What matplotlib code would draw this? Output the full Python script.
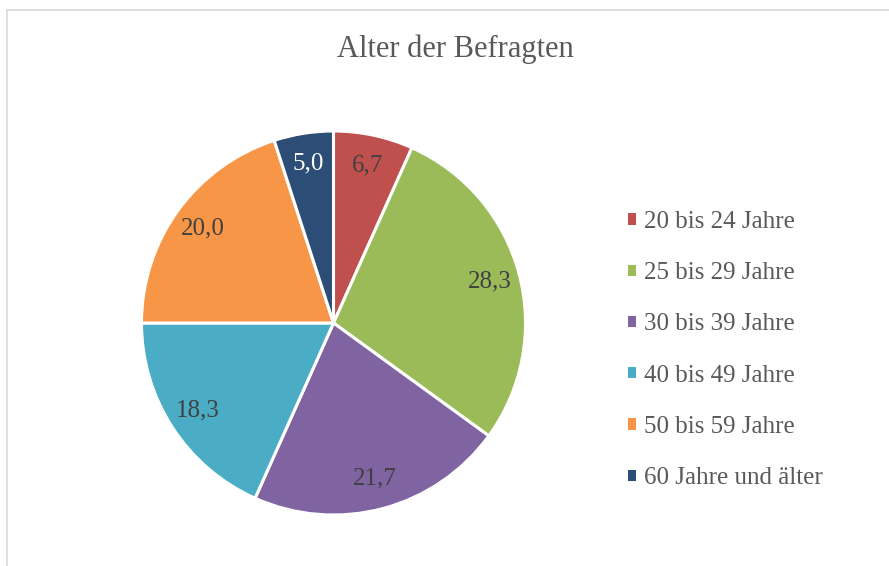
import matplotlib
matplotlib.use("Agg")
import matplotlib.pyplot as plt
from matplotlib.patches import Patch

title = "Alter der Befragten"
categories = ["20 bis 24 Jahre", "25 bis 29 Jahre", "30 bis 39 Jahre",
              "40 bis 49 Jahre", "50 bis 59 Jahre", "60 Jahre und älter"]
values = [6.7, 28.3, 21.7, 18.3, 20.0, 5.0]
colors = ["#C0504D", "#9BBB59", "#8064A2", "#4BACC6", "#F79646", "#2C4D75"]
label_colors = ["#404040", "#404040", "#404040", "#404040", "#404040", "#FFFFFF"]

FONT = ["Liberation Serif", "DejaVu Serif"]
plt.rcParams["font.family"] = FONT

W, H = 889, 566
fig = plt.figure(figsize=(W / 100, H / 100), dpi=100)
fig.patch.set_facecolor("white")

# chart-area border (only left and top visible)
fig.add_artist(plt.Line2D([7 / W, 7 / W], [0, 1 - 10 / H], color="#D9D9D9", lw=1.2,
                          transform=fig.transFigure))
fig.add_artist(plt.Line2D([7 / W, 1], [1 - 10 / H, 1 - 10 / H], color="#D9D9D9", lw=1.2,
                          transform=fig.transFigure))

cx, cy, r = 333.5, 323, 192
ax = fig.add_axes([(cx - r) / W, (H - cy - r) / H, 2 * r / W, 2 * r / H])
wedges, texts, autotexts = ax.pie(
    values, colors=colors, startangle=90, counterclock=False, radius=1,
    autopct=lambda p: "", pctdistance=0.84,
    wedgeprops=dict(edgecolor="white", linewidth=2.2),
)
ax.set_xlim(-1.0, 1.0)
ax.set_ylim(-1.0, 1.0)
ax.set_aspect("equal")
ax.axis("off")

for t, v, c in zip(autotexts, values, label_colors):
    t.set_text(f"{v:.1f}".replace(".", ","))
    t.set_color(c)
    t.set_fontsize(18)
    t.set_ha("center")
    t.set_va("center")

fig.text(455.5 / W, 1 - 57 / H, title, ha="center", va="baseline",
         fontsize=22, color="#595959")

handles = [Patch(facecolor=c, edgecolor="none") for c in colors]
leg = fig.legend(handles, categories, loc="upper left",
                 bbox_to_anchor=(628 / W, 1 - 211 / H), frameon=False,
                 fontsize=18, handlelength=0.32, handleheight=0.32,
                 handletextpad=0.32, labelspacing=1.17, borderpad=0,
                 borderaxespad=0)
for t in leg.get_texts():
    t.set_color("#595959")

fig.savefig("out.png", dpi=100, facecolor="white")
